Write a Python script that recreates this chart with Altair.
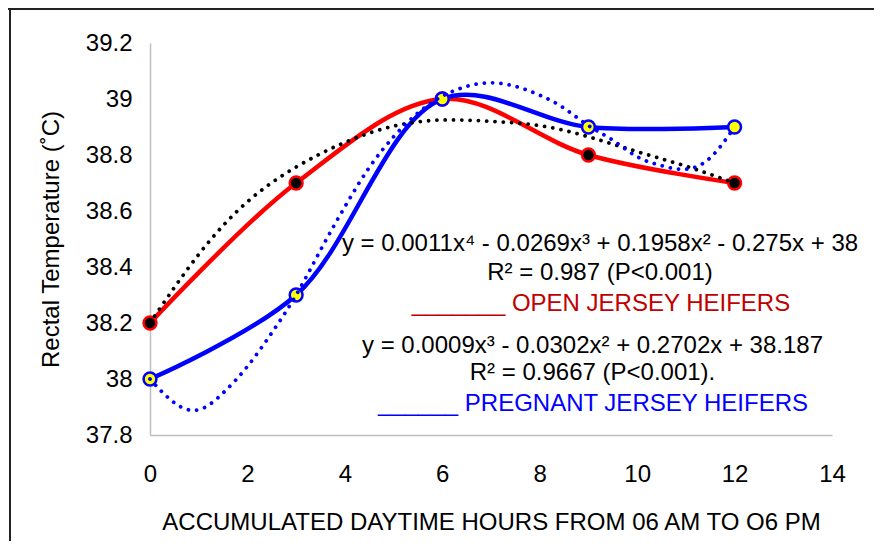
import altair as alt
import pandas as pd

# ---- data ----
hours = [0, 3, 6, 9, 12]
open_temp = [38.2, 38.7, 39.0, 38.8, 38.7]
preg_temp = [38.0, 38.3, 39.0, 38.9, 38.9]

open_trend_x = [0, 1, 2, 3, 4, 5, 6, 7, 8, 9, 10, 11, 12]
open_trend_y = [38.20, 38.445, 38.633, 38.757, 38.845, 38.903, 38.925, 38.92, 38.905,
                38.865, 38.812, 38.76, 38.70]

preg_trend_x = [0, 0.5, 1, 1.5, 2, 2.5, 3, 3.5, 4, 4.5, 5, 5.5, 6, 6.5, 7, 7.5, 8,
                8.5, 9, 9.5, 10, 10.5, 11, 11.5, 12]
preg_trend_y = [38.00, 37.915, 37.89, 37.95, 38.045, 38.165, 38.30, 38.46, 38.615,
                38.755, 38.865, 38.95, 39.01, 39.045, 39.058, 39.045, 39.014,
                38.967, 38.905, 38.853, 38.794, 38.762, 38.749, 38.79, 38.90]

x_ticks = [0, 2, 4, 6, 8, 10, 12, 14]
y_ticks = [37.8, 38.0, 38.2, 38.4, 38.6, 38.8, 39.0, 39.2]

ann_lines = [
    "y = 0.0011x\u2074 - 0.0269x\u00b3 + 0.1958x\u00b2 - 0.275x + 38",
    "R\u00b2 = 0.987 (P<0.001)",
    "_______ OPEN JERSEY HEIFERS",
    "y = 0.0009x\u00b3 - 0.0302x\u00b2 + 0.2702x + 38.187",
    "R\u00b2 = 0.9667 (P<0.001).",
    "______ PREGNANT JERSEY HEIFERS",
]

x_title = "ACCUMULATED DAYTIME HOURS FROM 06 AM TO O6 PM"
y_title = "Rectal  Temperature (\u02daC)"

# ---- tables ----
open_df = pd.DataFrame({"x": hours, "y": open_temp})
preg_df = pd.DataFrame({"x": hours, "y": preg_temp})
open_tr = pd.DataFrame({"x": open_trend_x, "y": open_trend_y})
preg_tr = pd.DataFrame({"x": preg_trend_x, "y": preg_trend_y})

FONT = "Liberation Sans"
RED = "#ff0000"
BLUE = "#0000ff"

xs = alt.Scale(domain=[0, 14], nice=False, zero=False)
ys = alt.Scale(domain=[37.8, 39.2], nice=False, zero=False)

x_enc = alt.X("x:Q", scale=xs, axis=alt.Axis(
    values=x_ticks, title=x_title, labelPadding=27, labelFlush=False,
    labelOverlap=False, titleY=87, titleBaseline="middle", titleAlign="center"))
y_enc = alt.Y("y:Q", scale=ys, axis=alt.Axis(
    values=y_ticks, format=".1~f", title=y_title, labelPadding=18,
    labelOverlap=False, titleX=-99, titleY=196, titleAngle=270,
    titleBaseline="middle", titleAlign="center"))

open_line = alt.Chart(open_df).mark_line(
    color=RED, strokeWidth=4.5, interpolate="catmull-rom").encode(x=x_enc, y=y_enc)
preg_line = alt.Chart(preg_df).mark_line(
    color=BLUE, strokeWidth=4.5, interpolate="catmull-rom").encode(x="x:Q", y="y:Q")

open_pts = alt.Chart(open_df).mark_point(
    shape="circle", filled=True, fill="black", stroke=RED, strokeWidth=2.5,
    size=165, opacity=1).encode(x="x:Q", y="y:Q")
preg_pts = alt.Chart(preg_df).mark_point(
    shape="circle", filled=True, fill="#ffff00", stroke=BLUE, strokeWidth=2.5,
    size=165, opacity=1).encode(x="x:Q", y="y:Q")

open_trend = alt.Chart(open_tr).mark_line(
    color="black", strokeWidth=3.8, strokeDash=[0.01, 8.3], strokeCap="round",
    interpolate="natural").encode(x="x:Q", y="y:Q")
preg_trend = alt.Chart(preg_tr).mark_line(
    color=BLUE, strokeWidth=3.8, strokeDash=[0.01, 8.3], strokeCap="round",
    interpolate="natural").encode(x="x:Q", y="y:Q")

ann_pos = [(450, 201, "black"), (450, 230, "black"), (451, 261, "#c00000"),
           (442.5, 303, "black"), (442.5, 330, "black"), (443, 361, BLUE)]
texts = []
for line, (px, py, col) in zip(ann_lines, ann_pos):
    texts.append(
        alt.Chart(pd.DataFrame({"label": [line]})).mark_text(
            font=FONT, fontSize=24, align="center", baseline="middle", color=col
        ).encode(x=alt.value(px), y=alt.value(py), text="label:N")
    )

frame_df = pd.DataFrame({"k": [0]})
frame_top = alt.Chart(frame_df).mark_rule(color="#222222", strokeWidth=2).encode(
    x=alt.value(-142), x2=alt.value(740), y=alt.value(-34))
frame_left = alt.Chart(frame_df).mark_rule(color="#222222", strokeWidth=2).encode(
    x=alt.value(-140), y=alt.value(-35), y2=alt.value(520))

chart = alt.layer(
    open_line, preg_line, open_pts, preg_pts, open_trend, preg_trend,
    *texts, frame_top, frame_left
).properties(
    width=682, height=392,
    autosize=alt.AutoSizeParams(type="none"),
    padding={"left": 142, "top": 35, "right": 42, "bottom": 106},
    background="white",
).configure_view(stroke=None).configure_axis(
    domainColor="#bfbfbf", domainWidth=1.5, grid=False, ticks=False, tickSize=0,
    labelFont=FONT, labelFontSize=24, labelColor="black",
    titleFont=FONT, titleFontSize=24, titleFontWeight="normal", titleColor="black",
)

chart.save("out.html", embed_options={"renderer": "svg", "actions": False})
